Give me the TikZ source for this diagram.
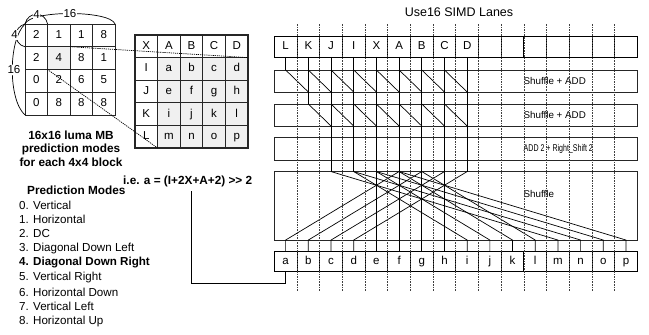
\documentclass[tikz,border=0pt]{standalone}
\usepackage{fontspec}
\setmainfont{Liberation Sans}
\begin{document}
\begin{tikzpicture}[x=1pt,y=-1pt]
\tikzset{
  lane/.style={draw=black, line width=0.8pt, minimum width=22.69pt, minimum height=21pt, inner sep=0pt, outer sep=0pt, font=\fontsize{11.5}{12}\selectfont, text height=8.2pt, text depth=2.2pt},
  wide/.style={draw=black!85, line width=0.9pt, minimum width=363pt, inner sep=0pt, outer sep=0pt},
  boxlabel/.style={anchor=west, inner sep=0pt, font=\fontsize{9.8}{10}\selectfont},
  guide/.style={draw=black!75, line width=0.7pt, dash pattern=on 1.6pt off 1pt},
  wire/.style={draw=black, line width=0.7pt},
  scell/.style={draw=black!85, line width=0.9pt, minimum width=22.6pt, minimum height=22.75pt, inner sep=0pt, outer sep=0pt, font=\fontsize{11.5}{12}\selectfont, text height=8.2pt, text depth=2.2pt},
  gcell/.style={draw=black!85, line width=1.1pt, minimum width=22.6pt, minimum height=22.6pt, inner sep=0pt, outer sep=0pt, font=\fontsize{11.5}{12}\selectfont, text height=8.2pt, text depth=2.2pt},
  shade/.style={fill=black!6},
  proj/.style={draw=black, line width=0.7pt, dash pattern=on 1.2pt off 0.9pt},
  dimlbl/.style={inner sep=0.6pt, fill=white, font=\fontsize{11.5}{12}\selectfont},
  txt/.style={inner sep=0pt, anchor=west, font=\fontsize{11.6}{13}\selectfont},
  btxt/.style={inner sep=0pt, font=\fontsize{11.8}{13.5}\selectfont\bfseries},
}
\useasboundingbox (0,0) rectangle (649,335);
\fill[white] (0,0) rectangle (649,335);

% ---------- small 4x4 grid of mode numbers ----------
\foreach \v [count=\c from 0] in {2,1,1,8}
  \node[scell] (s0\c) at ({36.3+22.5*\c},35.4) {\v};
\foreach \v [count=\c from 0] in {2,4,8,1}
  \node[scell] (s1\c) at ({36.3+22.5*\c},58.1) {\v};
\node[scell, shade] (s11x) at (58.8,58.1) {4};
\foreach \v [count=\c from 0] in {0,2,6,5}
  \node[scell] (s2\c) at ({36.3+22.5*\c},80.9) {\v};
\foreach \v [count=\c from 0] in {0,8,8,8}
  \node[scell] (s3\c) at ({36.3+22.5*\c},103.6) {\v};

% dimension arcs
\draw[wire] (s00.north west) .. controls (28,11) and (45,11) .. (s00.north east);
\draw[wire] (s00.north west) .. controls (30,10) and (110,10) .. (s03.north east);
\draw[wire] (s00.north west) .. controls (13,27) and (13,44) .. (s00.south west);
\draw[wire] (s00.north west) .. controls (8,40) and (8,100) .. (s30.south west);
\node[dimlbl] (dt4) at (36.5,14.5) {4};
\node[dimlbl] (dt16) at (70,14) {16};
\node[dimlbl] (dl4) at (14.5,35) {4};
\node[dimlbl] (dl16) at (14,70) {16};

% ---------- big grid of neighbours / pixels ----------
\foreach \v [count=\c from 0] in {X,A,B,C,D}
  \node[gcell] (g0\c) at ({146.3+22.6*\c},46.3) {\v};
\node[gcell] (g10) at (146.3,68.9) {I};
\foreach \v [count=\c from 1] in {a,b,c,d}
  \node[gcell, shade] (g1\c) at ({146.3+22.6*\c},68.9) {\v};
\node[gcell] (g20) at (146.3,91.5) {J};
\foreach \v [count=\c from 1] in {e,f,g,h}
  \node[gcell, shade] (g2\c) at ({146.3+22.6*\c},91.5) {\v};
\node[gcell] (g30) at (146.3,114.1) {K};
\foreach \v [count=\c from 1] in {i,j,k,l}
  \node[gcell, shade] (g3\c) at ({146.3+22.6*\c},114.1) {\v};
\node[gcell] (g40) at (146.3,136.7) {L};
\foreach \v [count=\c from 1] in {m,n,o,p}
  \node[gcell, shade] (g4\c) at ({146.3+22.6*\c},136.7) {\v};

% projection lines
\draw[proj] (s11x.north east) -- (g14.north east);
\draw[proj] (s11x.south west) -- (g41.south west);

% ---------- left texts ----------
\node[btxt, align=center] (cap) at (71,148.5) {16x16 luma MB\\prediction modes\\for each 4x4 block};
\node[btxt, anchor=west] (F) at (123,181) {i.e. a = (I+2X+A+2) >{}> 2};
\node[btxt, anchor=west] (pm) at (27,190) {Prediction Modes};
\node[txt] (m0) at (19,205) {0. Vertical};
\node[txt] (m1) at (19,219.5) {1. Horizontal};
\node[txt] (m2) at (19,234) {2. DC};
\node[txt] (m3) at (19,248.5) {3. Diagonal Down Left};
\node[txt, font=\fontsize{11.6}{13}\selectfont\bfseries] (m4) at (19,263) {4. Diagonal Down Right};
\node[txt] (m5) at (19,277.5) {5. Vertical Right};
\node[txt] (m6) at (19,292) {6. Horizontal Down};
\node[txt] (m7) at (19,306.5) {7. Vertical Left};
\node[txt] (m8) at (19,321) {8. Horizontal Up};

% ---------- SIMD lanes ----------
\node[font=\fontsize{12.5}{13}\selectfont, inner sep=0pt] (title) at (459,12) {Use16 SIMD Lanes};

\foreach \t [count=\n from 0] in {L,K,J,I,X,A,B,C,D,{},{},{},{},{},{},{}}
  \node[lane] (T\n) at ({274.3+22.69*(\n+0.5)},46.4) {\t};

\node[wide, minimum height=22pt] (B1) at (455.8,81) {};
\node[wide, minimum height=22pt] (B2) at (455.8,115) {};
\node[wide, minimum height=23.5pt] (B3) at (455.8,149) {};
\node[wide, minimum height=68.5pt] (B4) at (455.8,205.8) {};

\node[boxlabel] (lb1) at (523.5,81) {Shuffle + ADD};
\node[boxlabel] (lb2) at (523.5,115) {Shuffle + ADD};
\node[boxlabel] (lb3) at (523.5,149) {\scalebox{0.72}[1]{ADD 2 + Right\_Shift 2}};
\node[boxlabel] (lb4) at (523.5,194) {Shuffle};

\foreach \t [count=\n from 0] in {a,b,c,d,e,f,g,h,i,j,k,l,m,n,o,p}
  \node[lane, minimum height=20pt] (P\n) at ({274.3+22.69*(\n+0.5)},261) {\t};

% wires: first shuffle + add
\draw[wire] (T0.south) -- (T0.south |- B1.north);
\foreach \i in {0,...,7} {
  \pgfmathtruncatemacro\j{\i+1}
  \draw[wire] (T\i.south |- B1.north) -- (T\j.south |- B1.south);
}
\draw[wire] (T1.south) -- (T1.south |- B2.north);
\foreach \i in {1,...,7} {
  \pgfmathtruncatemacro\j{\i+1}
  \draw[wire] (T\i.south |- B2.north) -- (T\j.south |- B2.south);
}
\foreach \i in {2,...,8}
  \draw[wire] (T\i.south) -- (T\i.south |- B4.north);

% shuffle
\foreach \s/\d in {5/0,6/1,7/2,8/3,4/4,5/5,6/6,7/7,3/8,4/9,5/10,6/11,2/12,3/13,4/14,5/15}
  \draw[wire] (T\s.south |- B4.north) -- (P\d.north |- B4.south) -- (P\d.north);

% lane guides
\coordinate (gtop) at (0,24);
\coordinate (gbot) at (0,291);
\foreach \i in {1,...,15}
  \draw[guide] (T\i.north west |- gtop) -- (T\i.north west |- gbot);

% result back to formula
\coordinate (Fend) at (191.7,190.5);
\draw[wire] (P0.south) -- ++(0,12.5) -| (Fend);
\end{tikzpicture}
\end{document}
